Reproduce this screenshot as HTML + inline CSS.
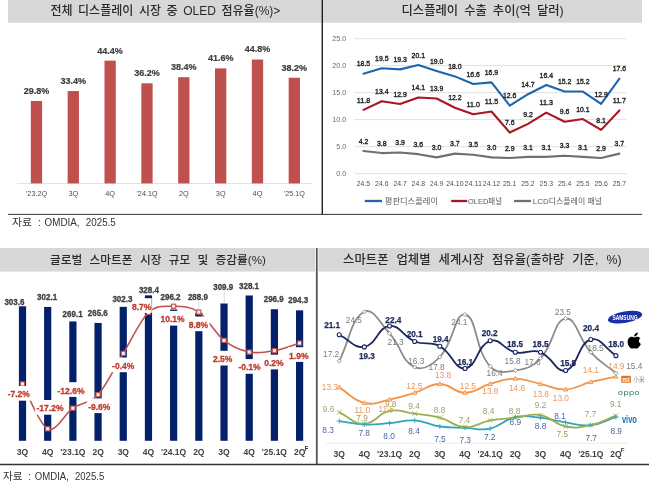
<!DOCTYPE html>
<html><head><meta charset="utf-8"><title>chart</title>
<style>html,body{margin:0;padding:0;background:#fff;} svg{display:block;}</style>
</head><body>
<svg width="650" height="490" viewBox="0 0 650 490">
<rect x="0.00" y="0.00" width="650.00" height="490.00" fill="#ffffff"/>
<rect x="8.00" y="0.00" width="634.00" height="22.70" fill="#d7d7d7"/>
<rect x="0.00" y="248.00" width="315.00" height="23.60" fill="#d7d7d7"/>
<rect x="318.50" y="248.00" width="330.50" height="23.60" fill="#d7d7d7"/>
<line x1="322.30" y1="0.00" x2="322.30" y2="214.50" stroke="#222" stroke-width="1.4"/>
<line x1="8.00" y1="214.40" x2="642.00" y2="214.40" stroke="#333" stroke-width="1"/>
<line x1="316.80" y1="248.00" x2="316.80" y2="464.50" stroke="#555" stroke-width="1.8"/>
<line x1="0.00" y1="464.40" x2="649.00" y2="464.40" stroke="#333" stroke-width="1.5"/>
<text x="50.4" y="14.8" font-size="12" fill="#2a2a2a" font-weight="500" font-family="'Liberation Sans','Noto Sans CJK KR',sans-serif" style="word-spacing:2.2px" textLength="230.0" lengthAdjust="spacingAndGlyphs">전체 디스플레이 시장 중 OLED 점유율(%)&gt;</text>
<line x1="17.00" y1="183.50" x2="312.00" y2="183.50" stroke="#d9d9d9" stroke-width="0.8"/>
<rect x="30.80" y="101.00" width="11.30" height="82.40" fill="#c0504d"/>
<text x="36.5" y="93.9" font-size="9" fill="#404040" font-weight="bold" text-anchor="middle" font-family="'Liberation Sans','Noto Sans CJK KR',sans-serif" textLength="25.6" lengthAdjust="spacingAndGlyphs" stroke="#404040" stroke-width="0.22">29.8%</text>
<text x="36.5" y="196.4" font-size="8" fill="#4d4d4d" font-weight="normal" text-anchor="middle" font-family="'Liberation Sans','Noto Sans CJK KR',sans-serif" textLength="21.0" lengthAdjust="spacingAndGlyphs">'23.2Q</text>
<rect x="67.64" y="91.05" width="11.30" height="92.35" fill="#c0504d"/>
<text x="73.3" y="83.9" font-size="9" fill="#404040" font-weight="bold" text-anchor="middle" font-family="'Liberation Sans','Noto Sans CJK KR',sans-serif" textLength="25.6" lengthAdjust="spacingAndGlyphs" stroke="#404040" stroke-width="0.22">33.4%</text>
<text x="73.3" y="196.4" font-size="8" fill="#4d4d4d" font-weight="normal" text-anchor="middle" font-family="'Liberation Sans','Noto Sans CJK KR',sans-serif" textLength="9.8" lengthAdjust="spacingAndGlyphs">3Q</text>
<rect x="104.48" y="60.63" width="11.30" height="122.77" fill="#c0504d"/>
<text x="110.1" y="53.5" font-size="9" fill="#404040" font-weight="bold" text-anchor="middle" font-family="'Liberation Sans','Noto Sans CJK KR',sans-serif" textLength="25.6" lengthAdjust="spacingAndGlyphs" stroke="#404040" stroke-width="0.22">44.4%</text>
<text x="110.1" y="196.4" font-size="8" fill="#4d4d4d" font-weight="normal" text-anchor="middle" font-family="'Liberation Sans','Noto Sans CJK KR',sans-serif" textLength="9.8" lengthAdjust="spacingAndGlyphs">4Q</text>
<rect x="141.32" y="83.31" width="11.30" height="100.09" fill="#c0504d"/>
<text x="147.0" y="76.2" font-size="9" fill="#404040" font-weight="bold" text-anchor="middle" font-family="'Liberation Sans','Noto Sans CJK KR',sans-serif" textLength="25.6" lengthAdjust="spacingAndGlyphs" stroke="#404040" stroke-width="0.22">36.2%</text>
<text x="147.0" y="196.4" font-size="8" fill="#4d4d4d" font-weight="normal" text-anchor="middle" font-family="'Liberation Sans','Noto Sans CJK KR',sans-serif" textLength="21.0" lengthAdjust="spacingAndGlyphs">'24.1Q</text>
<rect x="178.16" y="77.22" width="11.30" height="106.18" fill="#c0504d"/>
<text x="183.8" y="70.1" font-size="9" fill="#404040" font-weight="bold" text-anchor="middle" font-family="'Liberation Sans','Noto Sans CJK KR',sans-serif" textLength="25.6" lengthAdjust="spacingAndGlyphs" stroke="#404040" stroke-width="0.22">38.4%</text>
<text x="183.8" y="196.4" font-size="8" fill="#4d4d4d" font-weight="normal" text-anchor="middle" font-family="'Liberation Sans','Noto Sans CJK KR',sans-serif" textLength="9.8" lengthAdjust="spacingAndGlyphs">2Q</text>
<rect x="215.00" y="68.38" width="11.30" height="115.02" fill="#c0504d"/>
<text x="220.7" y="61.3" font-size="9" fill="#404040" font-weight="bold" text-anchor="middle" font-family="'Liberation Sans','Noto Sans CJK KR',sans-serif" textLength="25.6" lengthAdjust="spacingAndGlyphs" stroke="#404040" stroke-width="0.22">41.6%</text>
<text x="220.7" y="196.4" font-size="8" fill="#4d4d4d" font-weight="normal" text-anchor="middle" font-family="'Liberation Sans','Noto Sans CJK KR',sans-serif" textLength="9.8" lengthAdjust="spacingAndGlyphs">3Q</text>
<rect x="251.84" y="59.53" width="11.30" height="123.87" fill="#c0504d"/>
<text x="257.5" y="52.4" font-size="9" fill="#404040" font-weight="bold" text-anchor="middle" font-family="'Liberation Sans','Noto Sans CJK KR',sans-serif" textLength="25.6" lengthAdjust="spacingAndGlyphs" stroke="#404040" stroke-width="0.22">44.8%</text>
<text x="257.5" y="196.4" font-size="8" fill="#4d4d4d" font-weight="normal" text-anchor="middle" font-family="'Liberation Sans','Noto Sans CJK KR',sans-serif" textLength="9.8" lengthAdjust="spacingAndGlyphs">4Q</text>
<rect x="288.68" y="77.78" width="11.30" height="105.62" fill="#c0504d"/>
<text x="294.3" y="70.7" font-size="9" fill="#404040" font-weight="bold" text-anchor="middle" font-family="'Liberation Sans','Noto Sans CJK KR',sans-serif" textLength="25.6" lengthAdjust="spacingAndGlyphs" stroke="#404040" stroke-width="0.22">38.2%</text>
<text x="294.3" y="196.4" font-size="8" fill="#4d4d4d" font-weight="normal" text-anchor="middle" font-family="'Liberation Sans','Noto Sans CJK KR',sans-serif" textLength="21.0" lengthAdjust="spacingAndGlyphs">'25.1Q</text>
<text x="12.0" y="226.0" font-size="10" fill="#333333" font-weight="normal" text-anchor="start" font-family="'Noto Sans CJK KR','Liberation Sans',sans-serif" textLength="20.0" lengthAdjust="spacingAndGlyphs">자료</text>
<text x="38.0" y="226.0" font-size="10" fill="#333333" font-weight="normal" text-anchor="start" font-family="'Liberation Sans','Noto Sans CJK KR',sans-serif">:</text>
<text x="44.6" y="226.0" font-size="10" fill="#333333" font-weight="normal" text-anchor="start" font-family="'Liberation Sans','Noto Sans CJK KR',sans-serif" textLength="35.0" lengthAdjust="spacingAndGlyphs">OMDIA,</text>
<text x="85.8" y="226.0" font-size="10" fill="#333333" font-weight="normal" text-anchor="start" font-family="'Liberation Sans','Noto Sans CJK KR',sans-serif" textLength="30.0" lengthAdjust="spacingAndGlyphs">2025.5</text>
<text x="401.5" y="14.8" font-size="12" fill="#2a2a2a" font-weight="500" font-family="'Liberation Sans','Noto Sans CJK KR',sans-serif" style="word-spacing:2.6px" textLength="162.2" lengthAdjust="spacingAndGlyphs">디스플레이 수출 추이(억 달러)</text>
<line x1="354.50" y1="38.60" x2="626.60" y2="38.60" stroke="#d9d9d9" stroke-width="0.8"/>
<text x="346.2" y="41.4" font-size="8" fill="#6a6a6a" font-weight="normal" text-anchor="end" font-family="'Liberation Sans','Noto Sans CJK KR',sans-serif" textLength="13.9" lengthAdjust="spacingAndGlyphs">25.0</text>
<line x1="354.50" y1="65.60" x2="626.60" y2="65.60" stroke="#d9d9d9" stroke-width="0.8"/>
<text x="346.2" y="68.4" font-size="8" fill="#6a6a6a" font-weight="normal" text-anchor="end" font-family="'Liberation Sans','Noto Sans CJK KR',sans-serif" textLength="13.9" lengthAdjust="spacingAndGlyphs">20.0</text>
<line x1="354.50" y1="92.60" x2="626.60" y2="92.60" stroke="#d9d9d9" stroke-width="0.8"/>
<text x="346.2" y="95.4" font-size="8" fill="#6a6a6a" font-weight="normal" text-anchor="end" font-family="'Liberation Sans','Noto Sans CJK KR',sans-serif" textLength="13.9" lengthAdjust="spacingAndGlyphs">15.0</text>
<line x1="354.50" y1="119.60" x2="626.60" y2="119.60" stroke="#d9d9d9" stroke-width="0.8"/>
<text x="346.2" y="122.4" font-size="8" fill="#6a6a6a" font-weight="normal" text-anchor="end" font-family="'Liberation Sans','Noto Sans CJK KR',sans-serif" textLength="13.9" lengthAdjust="spacingAndGlyphs">10.0</text>
<line x1="354.50" y1="146.60" x2="626.60" y2="146.60" stroke="#d9d9d9" stroke-width="0.8"/>
<text x="346.2" y="149.4" font-size="8" fill="#6a6a6a" font-weight="normal" text-anchor="end" font-family="'Liberation Sans','Noto Sans CJK KR',sans-serif" textLength="9.9" lengthAdjust="spacingAndGlyphs">5.0</text>
<line x1="354.50" y1="173.60" x2="626.60" y2="173.60" stroke="#d9d9d9" stroke-width="0.8"/>
<text x="346.2" y="176.4" font-size="8" fill="#6a6a6a" font-weight="normal" text-anchor="end" font-family="'Liberation Sans','Noto Sans CJK KR',sans-serif" textLength="9.9" lengthAdjust="spacingAndGlyphs">0.0</text>
<text x="363.5" y="185.6" font-size="8" fill="#505050" font-weight="normal" text-anchor="middle" font-family="'Liberation Sans','Noto Sans CJK KR',sans-serif" textLength="13.4" lengthAdjust="spacingAndGlyphs">24.5</text>
<text x="381.8" y="185.6" font-size="8" fill="#505050" font-weight="normal" text-anchor="middle" font-family="'Liberation Sans','Noto Sans CJK KR',sans-serif" textLength="13.4" lengthAdjust="spacingAndGlyphs">24.6</text>
<text x="400.1" y="185.6" font-size="8" fill="#505050" font-weight="normal" text-anchor="middle" font-family="'Liberation Sans','Noto Sans CJK KR',sans-serif" textLength="13.4" lengthAdjust="spacingAndGlyphs">24.7</text>
<text x="418.3" y="185.6" font-size="8" fill="#505050" font-weight="normal" text-anchor="middle" font-family="'Liberation Sans','Noto Sans CJK KR',sans-serif" textLength="13.4" lengthAdjust="spacingAndGlyphs">24.8</text>
<text x="436.6" y="185.6" font-size="8" fill="#505050" font-weight="normal" text-anchor="middle" font-family="'Liberation Sans','Noto Sans CJK KR',sans-serif" textLength="13.4" lengthAdjust="spacingAndGlyphs">24.9</text>
<text x="454.9" y="185.6" font-size="8" fill="#505050" font-weight="normal" text-anchor="middle" font-family="'Liberation Sans','Noto Sans CJK KR',sans-serif" textLength="17.5" lengthAdjust="spacingAndGlyphs">24.10</text>
<text x="473.2" y="185.6" font-size="8" fill="#505050" font-weight="normal" text-anchor="middle" font-family="'Liberation Sans','Noto Sans CJK KR',sans-serif" textLength="17.5" lengthAdjust="spacingAndGlyphs">24.11</text>
<text x="491.5" y="185.6" font-size="8" fill="#505050" font-weight="normal" text-anchor="middle" font-family="'Liberation Sans','Noto Sans CJK KR',sans-serif" textLength="17.5" lengthAdjust="spacingAndGlyphs">24.12</text>
<text x="509.7" y="185.6" font-size="8" fill="#505050" font-weight="normal" text-anchor="middle" font-family="'Liberation Sans','Noto Sans CJK KR',sans-serif" textLength="13.4" lengthAdjust="spacingAndGlyphs">25.1</text>
<text x="528.0" y="185.6" font-size="8" fill="#505050" font-weight="normal" text-anchor="middle" font-family="'Liberation Sans','Noto Sans CJK KR',sans-serif" textLength="13.4" lengthAdjust="spacingAndGlyphs">25.2</text>
<text x="546.3" y="185.6" font-size="8" fill="#505050" font-weight="normal" text-anchor="middle" font-family="'Liberation Sans','Noto Sans CJK KR',sans-serif" textLength="13.4" lengthAdjust="spacingAndGlyphs">25.3</text>
<text x="564.6" y="185.6" font-size="8" fill="#505050" font-weight="normal" text-anchor="middle" font-family="'Liberation Sans','Noto Sans CJK KR',sans-serif" textLength="13.4" lengthAdjust="spacingAndGlyphs">25.4</text>
<text x="582.9" y="185.6" font-size="8" fill="#505050" font-weight="normal" text-anchor="middle" font-family="'Liberation Sans','Noto Sans CJK KR',sans-serif" textLength="13.4" lengthAdjust="spacingAndGlyphs">25.5</text>
<text x="601.1" y="185.6" font-size="8" fill="#505050" font-weight="normal" text-anchor="middle" font-family="'Liberation Sans','Noto Sans CJK KR',sans-serif" textLength="13.4" lengthAdjust="spacingAndGlyphs">25.6</text>
<text x="619.4" y="185.6" font-size="8" fill="#505050" font-weight="normal" text-anchor="middle" font-family="'Liberation Sans','Noto Sans CJK KR',sans-serif" textLength="13.4" lengthAdjust="spacingAndGlyphs">25.7</text>
<path d="M363.50,150.92 L381.78,153.08 L400.06,152.54 L418.34,154.16 L436.62,157.40 L454.90,153.62 L473.18,154.70 L491.46,157.40 L509.74,157.94 L528.02,156.86 L546.30,156.86 L564.58,155.78 L582.86,156.86 L601.14,157.94 L619.42,153.62" fill="none" stroke="#707070" stroke-width="2.1" stroke-linejoin="round" stroke-linecap="round"/>
<path d="M363.50,109.88 L381.78,101.24 L400.06,103.94 L418.34,97.46 L436.62,98.54 L454.90,107.72 L473.18,114.20 L491.46,111.50 L509.74,132.56 L528.02,123.92 L546.30,112.58 L564.58,121.76 L582.86,119.06 L601.14,129.86 L619.42,110.42" fill="none" stroke="#ab1520" stroke-width="2.1" stroke-linejoin="round" stroke-linecap="round"/>
<path d="M363.50,73.70 L381.78,68.30 L400.06,69.38 L418.34,65.06 L436.62,71.00 L454.90,76.40 L473.18,83.96 L491.46,82.34 L509.74,105.56 L528.02,94.22 L546.30,85.04 L564.58,91.52 L582.86,91.52 L601.14,103.94 L619.42,78.56" fill="none" stroke="#1f64ae" stroke-width="2.1" stroke-linejoin="round" stroke-linecap="round"/>
<text x="363.5" y="66.3" font-size="7.8" fill="#262626" font-weight="normal" text-anchor="middle" font-family="'Liberation Sans','Noto Sans CJK KR',sans-serif" textLength="13.4" lengthAdjust="spacingAndGlyphs" stroke="#262626" stroke-width="0.4">18.5</text>
<text x="381.8" y="60.9" font-size="7.8" fill="#262626" font-weight="normal" text-anchor="middle" font-family="'Liberation Sans','Noto Sans CJK KR',sans-serif" textLength="13.4" lengthAdjust="spacingAndGlyphs" stroke="#262626" stroke-width="0.4">19.5</text>
<text x="400.1" y="62.0" font-size="7.8" fill="#262626" font-weight="normal" text-anchor="middle" font-family="'Liberation Sans','Noto Sans CJK KR',sans-serif" textLength="13.4" lengthAdjust="spacingAndGlyphs" stroke="#262626" stroke-width="0.4">19.3</text>
<text x="418.3" y="57.7" font-size="7.8" fill="#262626" font-weight="normal" text-anchor="middle" font-family="'Liberation Sans','Noto Sans CJK KR',sans-serif" textLength="13.4" lengthAdjust="spacingAndGlyphs" stroke="#262626" stroke-width="0.4">20.1</text>
<text x="436.6" y="63.6" font-size="7.8" fill="#262626" font-weight="normal" text-anchor="middle" font-family="'Liberation Sans','Noto Sans CJK KR',sans-serif" textLength="13.4" lengthAdjust="spacingAndGlyphs" stroke="#262626" stroke-width="0.4">19.0</text>
<text x="454.9" y="69.0" font-size="7.8" fill="#262626" font-weight="normal" text-anchor="middle" font-family="'Liberation Sans','Noto Sans CJK KR',sans-serif" textLength="13.4" lengthAdjust="spacingAndGlyphs" stroke="#262626" stroke-width="0.4">18.0</text>
<text x="473.2" y="76.6" font-size="7.8" fill="#262626" font-weight="normal" text-anchor="middle" font-family="'Liberation Sans','Noto Sans CJK KR',sans-serif" textLength="13.4" lengthAdjust="spacingAndGlyphs" stroke="#262626" stroke-width="0.4">16.6</text>
<text x="491.5" y="74.9" font-size="7.8" fill="#262626" font-weight="normal" text-anchor="middle" font-family="'Liberation Sans','Noto Sans CJK KR',sans-serif" textLength="13.4" lengthAdjust="spacingAndGlyphs" stroke="#262626" stroke-width="0.4">16.9</text>
<text x="509.7" y="98.2" font-size="7.8" fill="#262626" font-weight="normal" text-anchor="middle" font-family="'Liberation Sans','Noto Sans CJK KR',sans-serif" textLength="13.4" lengthAdjust="spacingAndGlyphs" stroke="#262626" stroke-width="0.4">12.6</text>
<text x="528.0" y="86.8" font-size="7.8" fill="#262626" font-weight="normal" text-anchor="middle" font-family="'Liberation Sans','Noto Sans CJK KR',sans-serif" textLength="13.4" lengthAdjust="spacingAndGlyphs" stroke="#262626" stroke-width="0.4">14.7</text>
<text x="546.3" y="77.6" font-size="7.8" fill="#262626" font-weight="normal" text-anchor="middle" font-family="'Liberation Sans','Noto Sans CJK KR',sans-serif" textLength="13.4" lengthAdjust="spacingAndGlyphs" stroke="#262626" stroke-width="0.4">16.4</text>
<text x="564.6" y="84.1" font-size="7.8" fill="#262626" font-weight="normal" text-anchor="middle" font-family="'Liberation Sans','Noto Sans CJK KR',sans-serif" textLength="13.4" lengthAdjust="spacingAndGlyphs" stroke="#262626" stroke-width="0.4">15.2</text>
<text x="582.9" y="84.1" font-size="7.8" fill="#262626" font-weight="normal" text-anchor="middle" font-family="'Liberation Sans','Noto Sans CJK KR',sans-serif" textLength="13.4" lengthAdjust="spacingAndGlyphs" stroke="#262626" stroke-width="0.4">15.2</text>
<text x="601.1" y="96.5" font-size="7.8" fill="#262626" font-weight="normal" text-anchor="middle" font-family="'Liberation Sans','Noto Sans CJK KR',sans-serif" textLength="13.4" lengthAdjust="spacingAndGlyphs" stroke="#262626" stroke-width="0.4">12.9</text>
<text x="619.4" y="71.2" font-size="7.8" fill="#262626" font-weight="normal" text-anchor="middle" font-family="'Liberation Sans','Noto Sans CJK KR',sans-serif" textLength="13.4" lengthAdjust="spacingAndGlyphs" stroke="#262626" stroke-width="0.4">17.6</text>
<text x="363.5" y="102.5" font-size="7.8" fill="#262626" font-weight="normal" text-anchor="middle" font-family="'Liberation Sans','Noto Sans CJK KR',sans-serif" textLength="13.4" lengthAdjust="spacingAndGlyphs" stroke="#262626" stroke-width="0.4">11.8</text>
<text x="381.8" y="93.8" font-size="7.8" fill="#262626" font-weight="normal" text-anchor="middle" font-family="'Liberation Sans','Noto Sans CJK KR',sans-serif" textLength="13.4" lengthAdjust="spacingAndGlyphs" stroke="#262626" stroke-width="0.4">13.4</text>
<text x="400.1" y="96.5" font-size="7.8" fill="#262626" font-weight="normal" text-anchor="middle" font-family="'Liberation Sans','Noto Sans CJK KR',sans-serif" textLength="13.4" lengthAdjust="spacingAndGlyphs" stroke="#262626" stroke-width="0.4">12.9</text>
<text x="418.3" y="90.1" font-size="7.8" fill="#262626" font-weight="normal" text-anchor="middle" font-family="'Liberation Sans','Noto Sans CJK KR',sans-serif" textLength="13.4" lengthAdjust="spacingAndGlyphs" stroke="#262626" stroke-width="0.4">14.1</text>
<text x="436.6" y="91.1" font-size="7.8" fill="#262626" font-weight="normal" text-anchor="middle" font-family="'Liberation Sans','Noto Sans CJK KR',sans-serif" textLength="13.4" lengthAdjust="spacingAndGlyphs" stroke="#262626" stroke-width="0.4">13.9</text>
<text x="454.9" y="100.3" font-size="7.8" fill="#262626" font-weight="normal" text-anchor="middle" font-family="'Liberation Sans','Noto Sans CJK KR',sans-serif" textLength="13.4" lengthAdjust="spacingAndGlyphs" stroke="#262626" stroke-width="0.4">12.2</text>
<text x="473.2" y="106.8" font-size="7.8" fill="#262626" font-weight="normal" text-anchor="middle" font-family="'Liberation Sans','Noto Sans CJK KR',sans-serif" textLength="13.4" lengthAdjust="spacingAndGlyphs" stroke="#262626" stroke-width="0.4">11.0</text>
<text x="491.5" y="104.1" font-size="7.8" fill="#262626" font-weight="normal" text-anchor="middle" font-family="'Liberation Sans','Noto Sans CJK KR',sans-serif" textLength="13.4" lengthAdjust="spacingAndGlyphs" stroke="#262626" stroke-width="0.4">11.5</text>
<text x="509.7" y="125.2" font-size="7.8" fill="#262626" font-weight="normal" text-anchor="middle" font-family="'Liberation Sans','Noto Sans CJK KR',sans-serif" textLength="9.6" lengthAdjust="spacingAndGlyphs" stroke="#262626" stroke-width="0.4">7.6</text>
<text x="528.0" y="116.5" font-size="7.8" fill="#262626" font-weight="normal" text-anchor="middle" font-family="'Liberation Sans','Noto Sans CJK KR',sans-serif" textLength="9.6" lengthAdjust="spacingAndGlyphs" stroke="#262626" stroke-width="0.4">9.2</text>
<text x="546.3" y="105.2" font-size="7.8" fill="#262626" font-weight="normal" text-anchor="middle" font-family="'Liberation Sans','Noto Sans CJK KR',sans-serif" textLength="13.4" lengthAdjust="spacingAndGlyphs" stroke="#262626" stroke-width="0.4">11.3</text>
<text x="564.6" y="114.4" font-size="7.8" fill="#262626" font-weight="normal" text-anchor="middle" font-family="'Liberation Sans','Noto Sans CJK KR',sans-serif" textLength="9.6" lengthAdjust="spacingAndGlyphs" stroke="#262626" stroke-width="0.4">9.6</text>
<text x="582.9" y="111.7" font-size="7.8" fill="#262626" font-weight="normal" text-anchor="middle" font-family="'Liberation Sans','Noto Sans CJK KR',sans-serif" textLength="13.4" lengthAdjust="spacingAndGlyphs" stroke="#262626" stroke-width="0.4">10.1</text>
<text x="601.1" y="122.5" font-size="7.8" fill="#262626" font-weight="normal" text-anchor="middle" font-family="'Liberation Sans','Noto Sans CJK KR',sans-serif" textLength="9.6" lengthAdjust="spacingAndGlyphs" stroke="#262626" stroke-width="0.4">8.1</text>
<text x="619.4" y="103.0" font-size="7.8" fill="#262626" font-weight="normal" text-anchor="middle" font-family="'Liberation Sans','Noto Sans CJK KR',sans-serif" textLength="13.4" lengthAdjust="spacingAndGlyphs" stroke="#262626" stroke-width="0.4">11.7</text>
<text x="363.5" y="143.5" font-size="7.8" fill="#262626" font-weight="normal" text-anchor="middle" font-family="'Liberation Sans','Noto Sans CJK KR',sans-serif" textLength="9.6" lengthAdjust="spacingAndGlyphs" stroke="#262626" stroke-width="0.4">4.2</text>
<text x="381.8" y="145.7" font-size="7.8" fill="#262626" font-weight="normal" text-anchor="middle" font-family="'Liberation Sans','Noto Sans CJK KR',sans-serif" textLength="9.6" lengthAdjust="spacingAndGlyphs" stroke="#262626" stroke-width="0.4">3.8</text>
<text x="400.1" y="145.1" font-size="7.8" fill="#262626" font-weight="normal" text-anchor="middle" font-family="'Liberation Sans','Noto Sans CJK KR',sans-serif" textLength="9.6" lengthAdjust="spacingAndGlyphs" stroke="#262626" stroke-width="0.4">3.9</text>
<text x="418.3" y="146.8" font-size="7.8" fill="#262626" font-weight="normal" text-anchor="middle" font-family="'Liberation Sans','Noto Sans CJK KR',sans-serif" textLength="9.6" lengthAdjust="spacingAndGlyphs" stroke="#262626" stroke-width="0.4">3.6</text>
<text x="436.6" y="150.0" font-size="7.8" fill="#262626" font-weight="normal" text-anchor="middle" font-family="'Liberation Sans','Noto Sans CJK KR',sans-serif" textLength="9.6" lengthAdjust="spacingAndGlyphs" stroke="#262626" stroke-width="0.4">3.0</text>
<text x="454.9" y="146.2" font-size="7.8" fill="#262626" font-weight="normal" text-anchor="middle" font-family="'Liberation Sans','Noto Sans CJK KR',sans-serif" textLength="9.6" lengthAdjust="spacingAndGlyphs" stroke="#262626" stroke-width="0.4">3.7</text>
<text x="473.2" y="147.3" font-size="7.8" fill="#262626" font-weight="normal" text-anchor="middle" font-family="'Liberation Sans','Noto Sans CJK KR',sans-serif" textLength="9.6" lengthAdjust="spacingAndGlyphs" stroke="#262626" stroke-width="0.4">3.5</text>
<text x="491.5" y="150.0" font-size="7.8" fill="#262626" font-weight="normal" text-anchor="middle" font-family="'Liberation Sans','Noto Sans CJK KR',sans-serif" textLength="9.6" lengthAdjust="spacingAndGlyphs" stroke="#262626" stroke-width="0.4">3.0</text>
<text x="509.7" y="150.5" font-size="7.8" fill="#262626" font-weight="normal" text-anchor="middle" font-family="'Liberation Sans','Noto Sans CJK KR',sans-serif" textLength="9.6" lengthAdjust="spacingAndGlyphs" stroke="#262626" stroke-width="0.4">2.9</text>
<text x="528.0" y="149.5" font-size="7.8" fill="#262626" font-weight="normal" text-anchor="middle" font-family="'Liberation Sans','Noto Sans CJK KR',sans-serif" textLength="9.6" lengthAdjust="spacingAndGlyphs" stroke="#262626" stroke-width="0.4">3.1</text>
<text x="546.3" y="149.5" font-size="7.8" fill="#262626" font-weight="normal" text-anchor="middle" font-family="'Liberation Sans','Noto Sans CJK KR',sans-serif" textLength="9.6" lengthAdjust="spacingAndGlyphs" stroke="#262626" stroke-width="0.4">3.1</text>
<text x="564.6" y="148.4" font-size="7.8" fill="#262626" font-weight="normal" text-anchor="middle" font-family="'Liberation Sans','Noto Sans CJK KR',sans-serif" textLength="9.6" lengthAdjust="spacingAndGlyphs" stroke="#262626" stroke-width="0.4">3.3</text>
<text x="582.9" y="149.5" font-size="7.8" fill="#262626" font-weight="normal" text-anchor="middle" font-family="'Liberation Sans','Noto Sans CJK KR',sans-serif" textLength="9.6" lengthAdjust="spacingAndGlyphs" stroke="#262626" stroke-width="0.4">3.1</text>
<text x="601.1" y="150.5" font-size="7.8" fill="#262626" font-weight="normal" text-anchor="middle" font-family="'Liberation Sans','Noto Sans CJK KR',sans-serif" textLength="9.6" lengthAdjust="spacingAndGlyphs" stroke="#262626" stroke-width="0.4">2.9</text>
<text x="619.4" y="146.2" font-size="7.8" fill="#262626" font-weight="normal" text-anchor="middle" font-family="'Liberation Sans','Noto Sans CJK KR',sans-serif" textLength="9.6" lengthAdjust="spacingAndGlyphs" stroke="#262626" stroke-width="0.4">3.7</text>
<line x1="364.80" y1="201.00" x2="382.00" y2="201.00" stroke="#1f64ae" stroke-width="2.3"/>
<text x="384.8" y="204.0" font-size="8" fill="#595959" font-weight="normal" text-anchor="start" font-family="'Noto Sans CJK KR','Liberation Sans',sans-serif" textLength="53.2" lengthAdjust="spacingAndGlyphs">평판디스플레이</text>
<line x1="451.20" y1="201.00" x2="467.20" y2="201.00" stroke="#ab1520" stroke-width="2.3"/>
<text x="468.0" y="204.0" font-size="8" fill="#595959" font-weight="normal" text-anchor="start" font-family="'Liberation Sans','Noto Sans CJK KR',sans-serif" textLength="34.0" lengthAdjust="spacingAndGlyphs">OLED패널</text>
<line x1="514.00" y1="201.00" x2="531.00" y2="201.00" stroke="#707070" stroke-width="2.3"/>
<text x="532.8" y="204.0" font-size="8" fill="#595959" font-weight="normal" text-anchor="start" font-family="'Liberation Sans','Noto Sans CJK KR',sans-serif" textLength="69.2" lengthAdjust="spacingAndGlyphs">LCD디스플레이 패널</text>
<text x="50.0" y="263.6" font-size="11.5" fill="#2a2a2a" font-weight="500" font-family="'Liberation Sans','Noto Sans CJK KR',sans-serif" style="word-spacing:4px" textLength="216.0" lengthAdjust="spacingAndGlyphs">글로벌 스마트폰 시장 규모 및 증감률(%)</text>
<rect x="18.90" y="306.27" width="7.20" height="134.53" fill="#03216a"/>
<rect x="44.09" y="306.93" width="7.20" height="133.87" fill="#03216a"/>
<rect x="69.28" y="321.43" width="7.20" height="119.37" fill="#03216a"/>
<rect x="94.47" y="322.97" width="7.20" height="117.83" fill="#03216a"/>
<rect x="119.66" y="306.84" width="7.20" height="133.96" fill="#03216a"/>
<rect x="144.85" y="295.37" width="7.20" height="145.43" fill="#03216a"/>
<rect x="170.04" y="309.52" width="7.20" height="131.28" fill="#03216a"/>
<rect x="195.23" y="312.73" width="7.20" height="128.07" fill="#03216a"/>
<rect x="220.42" y="303.50" width="7.20" height="137.30" fill="#03216a"/>
<rect x="245.61" y="295.50" width="7.20" height="145.30" fill="#03216a"/>
<rect x="270.80" y="309.21" width="7.20" height="131.59" fill="#03216a"/>
<rect x="295.99" y="310.36" width="7.20" height="130.44" fill="#03216a"/>
<line x1="198.80" y1="301.50" x2="198.80" y2="312.50" stroke="#bfbfbf" stroke-width="0.6"/>
<line x1="224.20" y1="291.00" x2="224.20" y2="303.00" stroke="#bfbfbf" stroke-width="0.6"/>
<path d="M22.50,383.93 C26.70,391.41 39.29,424.79 47.69,428.83 C56.09,432.87 64.48,413.86 72.88,408.17 C81.28,402.49 89.67,403.83 98.07,394.70 C106.47,385.57 114.86,367.09 123.26,353.40 C131.66,339.70 140.05,320.39 148.45,312.54 C156.85,304.68 165.24,306.33 173.64,306.25 C182.04,306.18 190.43,306.40 198.83,312.09 C207.23,317.78 215.62,333.71 224.02,340.38 C232.42,347.04 240.81,350.33 249.21,352.05 C257.61,353.77 266.00,352.20 274.40,350.70 C282.80,349.21 295.39,344.34 299.59,343.07" fill="none" stroke="#c0504d" stroke-width="1.6"/>
<rect x="20.40" y="381.83" width="4.20" height="4.20" fill="#fbe9e9" stroke="#c0504d" stroke-width="1.1"/>
<rect x="45.59" y="426.73" width="4.20" height="4.20" fill="#fbe9e9" stroke="#c0504d" stroke-width="1.1"/>
<rect x="70.78" y="406.07" width="4.20" height="4.20" fill="#fbe9e9" stroke="#c0504d" stroke-width="1.1"/>
<rect x="95.97" y="392.60" width="4.20" height="4.20" fill="#fbe9e9" stroke="#c0504d" stroke-width="1.1"/>
<rect x="121.16" y="351.30" width="4.20" height="4.20" fill="#fbe9e9" stroke="#c0504d" stroke-width="1.1"/>
<rect x="146.35" y="310.44" width="4.20" height="4.20" fill="#fbe9e9" stroke="#c0504d" stroke-width="1.1"/>
<rect x="171.54" y="304.15" width="4.20" height="4.20" fill="#fbe9e9" stroke="#c0504d" stroke-width="1.1"/>
<rect x="196.73" y="309.99" width="4.20" height="4.20" fill="#fbe9e9" stroke="#c0504d" stroke-width="1.1"/>
<rect x="221.92" y="338.27" width="4.20" height="4.20" fill="#fbe9e9" stroke="#c0504d" stroke-width="1.1"/>
<rect x="247.11" y="349.95" width="4.20" height="4.20" fill="#fbe9e9" stroke="#c0504d" stroke-width="1.1"/>
<rect x="272.30" y="348.60" width="4.20" height="4.20" fill="#fbe9e9" stroke="#c0504d" stroke-width="1.1"/>
<rect x="297.49" y="340.97" width="4.20" height="4.20" fill="#fbe9e9" stroke="#c0504d" stroke-width="1.1"/>
<rect x="6.10" y="386.00" width="25.30" height="14.70" fill="#ffffff"/>
<rect x="35.20" y="400.00" width="29.50" height="14.70" fill="#ffffff"/>
<rect x="56.10" y="382.20" width="29.90" height="14.70" fill="#ffffff"/>
<rect x="86.90" y="398.40" width="24.90" height="14.70" fill="#ffffff"/>
<rect x="110.50" y="357.50" width="25.40" height="14.70" fill="#ffffff"/>
<rect x="131.40" y="298.20" width="20.30" height="14.70" fill="#ffffff"/>
<rect x="159.20" y="310.90" width="26.80" height="14.70" fill="#ffffff"/>
<rect x="187.30" y="316.50" width="22.30" height="14.70" fill="#ffffff"/>
<rect x="212.10" y="350.80" width="21.10" height="14.70" fill="#ffffff"/>
<rect x="237.00" y="359.10" width="25.00" height="14.70" fill="#ffffff"/>
<rect x="263.30" y="354.70" width="21.10" height="14.70" fill="#ffffff"/>
<rect x="288.00" y="347.20" width="21.60" height="14.70" fill="#ffffff"/>
<text x="18.8" y="397.3" font-size="8.5" fill="#c0392b" font-weight="bold" text-anchor="middle" font-family="'Liberation Sans','Noto Sans CJK KR',sans-serif" stroke="#c0392b" stroke-width="0.3">-7.2%</text>
<text x="50.0" y="411.3" font-size="8.5" fill="#c0392b" font-weight="bold" text-anchor="middle" font-family="'Liberation Sans','Noto Sans CJK KR',sans-serif" stroke="#c0392b" stroke-width="0.3">-17.2%</text>
<text x="71.0" y="393.5" font-size="8.5" fill="#c0392b" font-weight="bold" text-anchor="middle" font-family="'Liberation Sans','Noto Sans CJK KR',sans-serif" stroke="#c0392b" stroke-width="0.3">-12.6%</text>
<text x="99.3" y="409.7" font-size="8.5" fill="#c0392b" font-weight="bold" text-anchor="middle" font-family="'Liberation Sans','Noto Sans CJK KR',sans-serif" stroke="#c0392b" stroke-width="0.3">-9.6%</text>
<text x="123.2" y="368.8" font-size="8.5" fill="#c0392b" font-weight="bold" text-anchor="middle" font-family="'Liberation Sans','Noto Sans CJK KR',sans-serif" stroke="#c0392b" stroke-width="0.3">-0.4%</text>
<text x="141.6" y="309.5" font-size="8.5" fill="#c0392b" font-weight="bold" text-anchor="middle" font-family="'Liberation Sans','Noto Sans CJK KR',sans-serif" stroke="#c0392b" stroke-width="0.3">8.7%</text>
<text x="172.6" y="322.2" font-size="8.5" fill="#c0392b" font-weight="bold" text-anchor="middle" font-family="'Liberation Sans','Noto Sans CJK KR',sans-serif" stroke="#c0392b" stroke-width="0.3">10.1%</text>
<text x="198.4" y="327.8" font-size="8.5" fill="#c0392b" font-weight="bold" text-anchor="middle" font-family="'Liberation Sans','Noto Sans CJK KR',sans-serif" stroke="#c0392b" stroke-width="0.3">8.8%</text>
<text x="222.7" y="362.1" font-size="8.5" fill="#c0392b" font-weight="bold" text-anchor="middle" font-family="'Liberation Sans','Noto Sans CJK KR',sans-serif" stroke="#c0392b" stroke-width="0.3">2.5%</text>
<text x="249.5" y="370.4" font-size="8.5" fill="#c0392b" font-weight="bold" text-anchor="middle" font-family="'Liberation Sans','Noto Sans CJK KR',sans-serif" stroke="#c0392b" stroke-width="0.3">-0.1%</text>
<text x="273.9" y="366.0" font-size="8.5" fill="#c0392b" font-weight="bold" text-anchor="middle" font-family="'Liberation Sans','Noto Sans CJK KR',sans-serif" stroke="#c0392b" stroke-width="0.3">0.2%</text>
<text x="298.8" y="358.5" font-size="8.5" fill="#c0392b" font-weight="bold" text-anchor="middle" font-family="'Liberation Sans','Noto Sans CJK KR',sans-serif" stroke="#c0392b" stroke-width="0.3">1.9%</text>
<text x="14.4" y="304.6" font-size="8.5" fill="#404040" font-weight="bold" text-anchor="middle" font-family="'Liberation Sans','Noto Sans CJK KR',sans-serif" textLength="20.0" lengthAdjust="spacingAndGlyphs" stroke="#404040" stroke-width="0.3">303.6</text>
<text x="47.1" y="300.4" font-size="8.5" fill="#404040" font-weight="bold" text-anchor="middle" font-family="'Liberation Sans','Noto Sans CJK KR',sans-serif" textLength="20.0" lengthAdjust="spacingAndGlyphs" stroke="#404040" stroke-width="0.3">302.1</text>
<text x="72.6" y="317.2" font-size="8.5" fill="#404040" font-weight="bold" text-anchor="middle" font-family="'Liberation Sans','Noto Sans CJK KR',sans-serif" textLength="20.0" lengthAdjust="spacingAndGlyphs" stroke="#404040" stroke-width="0.3">269.1</text>
<text x="97.8" y="316.4" font-size="8.5" fill="#404040" font-weight="bold" text-anchor="middle" font-family="'Liberation Sans','Noto Sans CJK KR',sans-serif" textLength="20.0" lengthAdjust="spacingAndGlyphs" stroke="#404040" stroke-width="0.3">265.6</text>
<text x="122.4" y="301.5" font-size="8.5" fill="#404040" font-weight="bold" text-anchor="middle" font-family="'Liberation Sans','Noto Sans CJK KR',sans-serif" textLength="20.0" lengthAdjust="spacingAndGlyphs" stroke="#404040" stroke-width="0.3">302.3</text>
<text x="148.9" y="293.2" font-size="8.5" fill="#404040" font-weight="bold" text-anchor="middle" font-family="'Liberation Sans','Noto Sans CJK KR',sans-serif" textLength="20.0" lengthAdjust="spacingAndGlyphs" stroke="#404040" stroke-width="0.3">328.4</text>
<text x="170.5" y="300.1" font-size="8.5" fill="#404040" font-weight="bold" text-anchor="middle" font-family="'Liberation Sans','Noto Sans CJK KR',sans-serif" textLength="20.0" lengthAdjust="spacingAndGlyphs" stroke="#404040" stroke-width="0.3">296.2</text>
<text x="197.9" y="300.1" font-size="8.5" fill="#404040" font-weight="bold" text-anchor="middle" font-family="'Liberation Sans','Noto Sans CJK KR',sans-serif" textLength="20.0" lengthAdjust="spacingAndGlyphs" stroke="#404040" stroke-width="0.3">288.9</text>
<text x="223.2" y="289.6" font-size="8.5" fill="#404040" font-weight="bold" text-anchor="middle" font-family="'Liberation Sans','Noto Sans CJK KR',sans-serif" textLength="20.0" lengthAdjust="spacingAndGlyphs" stroke="#404040" stroke-width="0.3">309.9</text>
<text x="249.0" y="289.0" font-size="8.5" fill="#404040" font-weight="bold" text-anchor="middle" font-family="'Liberation Sans','Noto Sans CJK KR',sans-serif" textLength="20.0" lengthAdjust="spacingAndGlyphs" stroke="#404040" stroke-width="0.3">328.1</text>
<text x="273.7" y="302.4" font-size="8.5" fill="#404040" font-weight="bold" text-anchor="middle" font-family="'Liberation Sans','Noto Sans CJK KR',sans-serif" textLength="20.0" lengthAdjust="spacingAndGlyphs" stroke="#404040" stroke-width="0.3">296.9</text>
<text x="298.2" y="303.0" font-size="8.5" fill="#404040" font-weight="bold" text-anchor="middle" font-family="'Liberation Sans','Noto Sans CJK KR',sans-serif" textLength="20.0" lengthAdjust="spacingAndGlyphs" stroke="#404040" stroke-width="0.3">294.3</text>
<text x="22.5" y="455.0" font-size="8.5" fill="#404040" font-weight="bold" text-anchor="middle" font-family="'Liberation Sans','Noto Sans CJK KR',sans-serif">3Q</text>
<text x="47.7" y="455.0" font-size="8.5" fill="#404040" font-weight="bold" text-anchor="middle" font-family="'Liberation Sans','Noto Sans CJK KR',sans-serif">4Q</text>
<text x="72.9" y="455.0" font-size="8.5" fill="#404040" font-weight="bold" text-anchor="middle" font-family="'Liberation Sans','Noto Sans CJK KR',sans-serif">'23.1Q</text>
<text x="98.1" y="455.0" font-size="8.5" fill="#404040" font-weight="bold" text-anchor="middle" font-family="'Liberation Sans','Noto Sans CJK KR',sans-serif">2Q</text>
<text x="123.3" y="455.0" font-size="8.5" fill="#404040" font-weight="bold" text-anchor="middle" font-family="'Liberation Sans','Noto Sans CJK KR',sans-serif">3Q</text>
<text x="148.4" y="455.0" font-size="8.5" fill="#404040" font-weight="bold" text-anchor="middle" font-family="'Liberation Sans','Noto Sans CJK KR',sans-serif">4Q</text>
<text x="173.6" y="455.0" font-size="8.5" fill="#404040" font-weight="bold" text-anchor="middle" font-family="'Liberation Sans','Noto Sans CJK KR',sans-serif">'24.1Q</text>
<text x="198.8" y="455.0" font-size="8.5" fill="#404040" font-weight="bold" text-anchor="middle" font-family="'Liberation Sans','Noto Sans CJK KR',sans-serif">2Q</text>
<text x="224.0" y="455.0" font-size="8.5" fill="#404040" font-weight="bold" text-anchor="middle" font-family="'Liberation Sans','Noto Sans CJK KR',sans-serif">3Q</text>
<text x="249.2" y="455.0" font-size="8.5" fill="#404040" font-weight="bold" text-anchor="middle" font-family="'Liberation Sans','Noto Sans CJK KR',sans-serif">4Q</text>
<text x="274.4" y="455.0" font-size="8.5" fill="#404040" font-weight="bold" text-anchor="middle" font-family="'Liberation Sans','Noto Sans CJK KR',sans-serif">'25.1Q</text>
<text x="299.6" y="455.0" font-size="8.5" fill="#404040" font-weight="bold" text-anchor="middle" font-family="'Liberation Sans','Noto Sans CJK KR',sans-serif">2Q</text>
<text x="306.4" y="450.6" font-size="6.4" fill="#404040" font-weight="bold" text-anchor="middle" font-family="'Liberation Sans','Noto Sans CJK KR',sans-serif">F</text>
<text x="3.0" y="479.8" font-size="10" fill="#333333" font-weight="normal" text-anchor="start" font-family="'Noto Sans CJK KR','Liberation Sans',sans-serif" textLength="19.5" lengthAdjust="spacingAndGlyphs">자료</text>
<text x="28.3" y="479.8" font-size="10" fill="#333333" font-weight="normal" text-anchor="start" font-family="'Liberation Sans','Noto Sans CJK KR',sans-serif">:</text>
<text x="34.8" y="479.8" font-size="10" fill="#333333" font-weight="normal" text-anchor="start" font-family="'Liberation Sans','Noto Sans CJK KR',sans-serif" textLength="34.1" lengthAdjust="spacingAndGlyphs">OMDIA,</text>
<text x="75.0" y="479.8" font-size="10" fill="#333333" font-weight="normal" text-anchor="start" font-family="'Liberation Sans','Noto Sans CJK KR',sans-serif" textLength="29.2" lengthAdjust="spacingAndGlyphs">2025.5</text>
<text x="343.1" y="264.2" font-size="12" fill="#2a2a2a" font-weight="500" font-family="'Liberation Sans','Noto Sans CJK KR',sans-serif" style="word-spacing:4.5px" textLength="278.4" lengthAdjust="spacingAndGlyphs">스마트폰 업체별 세계시장 점유율(출하량 기준, %)</text>
<line x1="325.40" y1="443.20" x2="628.00" y2="443.20" stroke="#e6e6e6" stroke-width="0.8"/>
<path d="M339.20,421.10 C350.52,422.62 353.00,424.02 364.36,424.47 C375.64,424.93 378.22,424.03 389.52,423.12 C400.87,422.21 403.49,419.67 414.68,420.43 C426.13,421.19 428.37,424.81 439.84,426.50 C451.01,428.14 453.67,427.39 465.00,427.85 C476.32,428.30 479.37,430.84 490.16,428.52 C502.01,425.98 503.47,419.59 515.32,417.05 C526.11,414.74 529.25,416.52 540.48,417.73 C551.90,418.95 554.25,420.77 565.64,422.45 C576.90,424.11 579.72,426.34 590.80,425.15 C602.37,423.91 604.64,420.70 615.96,417.05" fill="none" stroke="#34a4bc" stroke-width="1.8"/>
<path d="M339.20,412.33 C350.52,417.49 353.16,424.10 364.36,423.80 C375.80,423.49 377.58,413.38 389.52,410.98 C400.22,408.83 403.40,412.17 414.68,413.68 C426.04,415.20 428.82,414.77 439.84,417.73 C451.46,420.84 453.50,426.56 465.00,427.17 C476.15,427.77 478.67,422.58 490.16,420.43 C501.32,418.33 504.00,418.94 515.32,417.73 C526.64,416.51 529.66,413.14 540.48,415.03 C552.30,417.09 553.79,424.11 565.64,426.50 C576.44,428.67 579.84,427.50 590.80,425.15 C602.49,422.64 604.64,419.95 615.96,415.70" fill="none" stroke="#9aae4e" stroke-width="1.8"/>
<path d="M339.20,387.36 C350.52,394.35 352.18,399.94 364.36,402.88 C374.82,405.41 378.34,401.76 389.52,399.51 C400.99,397.20 403.49,396.21 414.68,392.76 C426.13,389.23 428.52,383.99 439.84,383.99 C451.16,383.99 453.68,392.76 465.00,392.76 C476.32,392.76 478.64,387.23 490.16,383.99 C501.28,380.86 504.00,378.59 515.32,378.59 C526.64,378.59 529.16,381.56 540.48,383.99 C551.80,386.42 554.43,389.84 565.64,389.39 C577.07,388.93 579.37,384.88 590.80,381.97 C602.01,379.11 604.64,379.00 615.96,376.57" fill="none" stroke="#f39446" stroke-width="1.8"/>
<path d="M339.20,361.05 C350.52,338.89 350.20,319.58 364.36,311.80 C372.85,307.13 379.54,322.42 389.52,333.39 C402.19,347.31 400.91,360.66 414.68,367.12 C423.55,371.29 431.81,365.40 439.84,357.00 C454.46,341.72 454.56,312.54 465.00,314.50 C477.20,316.79 474.45,348.97 490.16,366.45 C497.10,374.17 504.52,372.24 515.32,370.50 C527.16,368.59 532.05,367.06 540.48,358.35 C554.69,343.68 553.68,319.99 565.64,318.55 C576.33,317.26 578.06,338.44 590.80,352.28 C600.70,363.04 604.64,363.78 615.96,373.20" fill="none" stroke="#8c8c8c" stroke-width="1.8"/>
<path d="M339.20,334.74 C350.52,340.20 353.93,348.70 364.36,346.88 C376.57,344.75 377.62,327.24 389.52,325.97 C400.27,324.81 402.54,336.60 414.68,341.49 C425.19,345.71 430.05,340.96 439.84,346.21 C452.69,353.10 454.28,369.62 465.00,368.47 C476.93,367.19 477.14,345.00 490.16,340.81 C499.79,337.71 503.46,349.58 515.32,352.28 C526.11,354.74 530.35,348.61 540.48,352.28 C552.99,356.81 555.74,373.02 565.64,370.50 C578.38,367.25 577.85,343.28 590.80,339.46 C600.50,336.60 604.64,348.37 615.96,355.65" fill="none" stroke="#1c2760" stroke-width="1.8"/>
<circle cx="339.20" cy="334.74" r="2.0" fill="#fff" stroke="#1c2760" stroke-width="1.1"/>
<circle cx="364.36" cy="346.88" r="2.0" fill="#fff" stroke="#1c2760" stroke-width="1.1"/>
<circle cx="389.52" cy="325.97" r="2.0" fill="#fff" stroke="#1c2760" stroke-width="1.1"/>
<circle cx="414.68" cy="341.49" r="2.0" fill="#fff" stroke="#1c2760" stroke-width="1.1"/>
<circle cx="439.84" cy="346.21" r="2.0" fill="#fff" stroke="#1c2760" stroke-width="1.1"/>
<circle cx="465.00" cy="368.47" r="2.0" fill="#fff" stroke="#1c2760" stroke-width="1.1"/>
<circle cx="490.16" cy="340.81" r="2.0" fill="#fff" stroke="#1c2760" stroke-width="1.1"/>
<circle cx="515.32" cy="352.28" r="2.0" fill="#fff" stroke="#1c2760" stroke-width="1.1"/>
<circle cx="540.48" cy="352.28" r="2.0" fill="#fff" stroke="#1c2760" stroke-width="1.1"/>
<circle cx="565.64" cy="370.50" r="2.0" fill="#fff" stroke="#1c2760" stroke-width="1.1"/>
<circle cx="590.80" cy="339.46" r="2.0" fill="#fff" stroke="#1c2760" stroke-width="1.1"/>
<circle cx="615.96" cy="355.65" r="2.0" fill="#fff" stroke="#1c2760" stroke-width="1.1"/>
<path d="M339.20,359.05 L341.20,361.05 L339.20,363.05 L337.20,361.05Z" fill="#fff" stroke="#8c8c8c" stroke-width="0.9"/>
<path d="M364.36,309.80 L366.36,311.80 L364.36,313.80 L362.36,311.80Z" fill="#fff" stroke="#8c8c8c" stroke-width="0.9"/>
<path d="M389.52,331.39 L391.52,333.39 L389.52,335.39 L387.52,333.39Z" fill="#fff" stroke="#8c8c8c" stroke-width="0.9"/>
<path d="M414.68,365.12 L416.68,367.12 L414.68,369.12 L412.68,367.12Z" fill="#fff" stroke="#8c8c8c" stroke-width="0.9"/>
<path d="M439.84,355.00 L441.84,357.00 L439.84,359.00 L437.84,357.00Z" fill="#fff" stroke="#8c8c8c" stroke-width="0.9"/>
<path d="M465.00,312.50 L467.00,314.50 L465.00,316.50 L463.00,314.50Z" fill="#fff" stroke="#8c8c8c" stroke-width="0.9"/>
<path d="M490.16,364.45 L492.16,366.45 L490.16,368.45 L488.16,366.45Z" fill="#fff" stroke="#8c8c8c" stroke-width="0.9"/>
<path d="M515.32,368.50 L517.32,370.50 L515.32,372.50 L513.32,370.50Z" fill="#fff" stroke="#8c8c8c" stroke-width="0.9"/>
<path d="M540.48,356.35 L542.48,358.35 L540.48,360.35 L538.48,358.35Z" fill="#fff" stroke="#8c8c8c" stroke-width="0.9"/>
<path d="M565.64,316.55 L567.64,318.55 L565.64,320.55 L563.64,318.55Z" fill="#fff" stroke="#8c8c8c" stroke-width="0.9"/>
<path d="M590.80,350.28 L592.80,352.28 L590.80,354.28 L588.80,352.28Z" fill="#fff" stroke="#8c8c8c" stroke-width="0.9"/>
<path d="M615.96,371.20 L617.96,373.20 L615.96,375.20 L613.96,373.20Z" fill="#fff" stroke="#8c8c8c" stroke-width="0.9"/>
<path d="M339.20,385.16 L341.40,388.96 L337.00,388.96Z" fill="#fbd5b5" stroke="#f39446" stroke-width="0.9"/>
<path d="M364.36,400.68 L366.56,404.48 L362.16,404.48Z" fill="#fbd5b5" stroke="#f39446" stroke-width="0.9"/>
<path d="M389.52,397.31 L391.72,401.11 L387.32,401.11Z" fill="#fbd5b5" stroke="#f39446" stroke-width="0.9"/>
<path d="M414.68,390.56 L416.88,394.36 L412.48,394.36Z" fill="#fbd5b5" stroke="#f39446" stroke-width="0.9"/>
<path d="M439.84,381.79 L442.04,385.59 L437.64,385.59Z" fill="#fbd5b5" stroke="#f39446" stroke-width="0.9"/>
<path d="M465.00,390.56 L467.20,394.36 L462.80,394.36Z" fill="#fbd5b5" stroke="#f39446" stroke-width="0.9"/>
<path d="M490.16,381.79 L492.36,385.59 L487.96,385.59Z" fill="#fbd5b5" stroke="#f39446" stroke-width="0.9"/>
<path d="M515.32,376.39 L517.52,380.19 L513.12,380.19Z" fill="#fbd5b5" stroke="#f39446" stroke-width="0.9"/>
<path d="M540.48,381.79 L542.68,385.59 L538.28,385.59Z" fill="#fbd5b5" stroke="#f39446" stroke-width="0.9"/>
<path d="M565.64,387.19 L567.84,390.99 L563.44,390.99Z" fill="#fbd5b5" stroke="#f39446" stroke-width="0.9"/>
<path d="M590.80,379.77 L593.00,383.57 L588.60,383.57Z" fill="#fbd5b5" stroke="#f39446" stroke-width="0.9"/>
<path d="M615.96,374.37 L618.16,378.17 L613.76,378.17Z" fill="#fbd5b5" stroke="#f39446" stroke-width="0.9"/>
<path d="M336.90,410.03 L341.50,414.63 M341.50,410.03 L336.90,414.63" stroke="#9aae4e" stroke-width="0.9"/>
<path d="M362.06,421.50 L366.66,426.10 M366.66,421.50 L362.06,426.10" stroke="#9aae4e" stroke-width="0.9"/>
<path d="M387.22,408.68 L391.82,413.28 M391.82,408.68 L387.22,413.28" stroke="#9aae4e" stroke-width="0.9"/>
<path d="M412.38,411.38 L416.98,415.98 M416.98,411.38 L412.38,415.98" stroke="#9aae4e" stroke-width="0.9"/>
<path d="M437.54,415.43 L442.14,420.03 M442.14,415.43 L437.54,420.03" stroke="#9aae4e" stroke-width="0.9"/>
<path d="M462.70,424.87 L467.30,429.47 M467.30,424.87 L462.70,429.47" stroke="#9aae4e" stroke-width="0.9"/>
<path d="M487.86,418.13 L492.46,422.73 M492.46,418.13 L487.86,422.73" stroke="#9aae4e" stroke-width="0.9"/>
<path d="M513.02,415.43 L517.62,420.03 M517.62,415.43 L513.02,420.03" stroke="#9aae4e" stroke-width="0.9"/>
<path d="M538.18,412.73 L542.78,417.33 M542.78,412.73 L538.18,417.33" stroke="#9aae4e" stroke-width="0.9"/>
<path d="M563.34,424.20 L567.94,428.80 M567.94,424.20 L563.34,428.80" stroke="#9aae4e" stroke-width="0.9"/>
<path d="M588.50,422.85 L593.10,427.45 M593.10,422.85 L588.50,427.45" stroke="#9aae4e" stroke-width="0.9"/>
<path d="M613.66,413.40 L618.26,418.00 M618.26,413.40 L613.66,418.00" stroke="#9aae4e" stroke-width="0.9"/>
<path d="M336.70,421.10 L341.70,421.10 M339.20,418.60 L339.20,423.60" stroke="#34a4bc" stroke-width="0.9"/>
<path d="M361.86,424.47 L366.86,424.47 M364.36,421.97 L364.36,426.97" stroke="#34a4bc" stroke-width="0.9"/>
<path d="M387.02,423.12 L392.02,423.12 M389.52,420.62 L389.52,425.62" stroke="#34a4bc" stroke-width="0.9"/>
<path d="M412.18,420.43 L417.18,420.43 M414.68,417.93 L414.68,422.93" stroke="#34a4bc" stroke-width="0.9"/>
<path d="M437.34,426.50 L442.34,426.50 M439.84,424.00 L439.84,429.00" stroke="#34a4bc" stroke-width="0.9"/>
<path d="M462.50,427.85 L467.50,427.85 M465.00,425.35 L465.00,430.35" stroke="#34a4bc" stroke-width="0.9"/>
<path d="M487.66,428.52 L492.66,428.52 M490.16,426.02 L490.16,431.02" stroke="#34a4bc" stroke-width="0.9"/>
<path d="M512.82,417.05 L517.82,417.05 M515.32,414.55 L515.32,419.55" stroke="#34a4bc" stroke-width="0.9"/>
<path d="M537.98,417.73 L542.98,417.73 M540.48,415.23 L540.48,420.23" stroke="#34a4bc" stroke-width="0.9"/>
<path d="M563.14,422.45 L568.14,422.45 M565.64,419.95 L565.64,424.95" stroke="#34a4bc" stroke-width="0.9"/>
<path d="M588.30,425.15 L593.30,425.15 M590.80,422.65 L590.80,427.65" stroke="#34a4bc" stroke-width="0.9"/>
<path d="M613.46,417.05 L618.46,417.05 M615.96,414.55 L615.96,419.55" stroke="#34a4bc" stroke-width="0.9"/>
<text x="328.1" y="432.9" font-size="8.3" fill="#4a64a4" font-weight="normal" text-anchor="middle" font-family="'Liberation Sans','Noto Sans CJK KR',sans-serif">8.3</text>
<text x="364.2" y="436.2" font-size="8.3" fill="#4a64a4" font-weight="normal" text-anchor="middle" font-family="'Liberation Sans','Noto Sans CJK KR',sans-serif">7.8</text>
<text x="389.1" y="439.4" font-size="8.3" fill="#4a64a4" font-weight="normal" text-anchor="middle" font-family="'Liberation Sans','Noto Sans CJK KR',sans-serif">8.0</text>
<text x="414.0" y="433.6" font-size="8.3" fill="#4a64a4" font-weight="normal" text-anchor="middle" font-family="'Liberation Sans','Noto Sans CJK KR',sans-serif">8.4</text>
<text x="439.9" y="441.8" font-size="8.3" fill="#4a64a4" font-weight="normal" text-anchor="middle" font-family="'Liberation Sans','Noto Sans CJK KR',sans-serif">7.5</text>
<text x="465.2" y="443.4" font-size="8.3" fill="#4a64a4" font-weight="normal" text-anchor="middle" font-family="'Liberation Sans','Noto Sans CJK KR',sans-serif">7.3</text>
<text x="489.7" y="440.2" font-size="8.3" fill="#4a64a4" font-weight="normal" text-anchor="middle" font-family="'Liberation Sans','Noto Sans CJK KR',sans-serif">7.2</text>
<text x="515.3" y="425.1" font-size="8.3" fill="#4a64a4" font-weight="normal" text-anchor="middle" font-family="'Liberation Sans','Noto Sans CJK KR',sans-serif">8.9</text>
<text x="540.6" y="429.0" font-size="8.3" fill="#4a64a4" font-weight="normal" text-anchor="middle" font-family="'Liberation Sans','Noto Sans CJK KR',sans-serif">8.8</text>
<text x="560.0" y="418.9" font-size="8.3" fill="#4a64a4" font-weight="normal" text-anchor="middle" font-family="'Liberation Sans','Noto Sans CJK KR',sans-serif">8.1</text>
<text x="591.2" y="441.3" font-size="8.3" fill="#4a64a4" font-weight="normal" text-anchor="middle" font-family="'Liberation Sans','Noto Sans CJK KR',sans-serif">7.7</text>
<text x="616.2" y="433.5" font-size="8.3" fill="#4a64a4" font-weight="normal" text-anchor="middle" font-family="'Liberation Sans','Noto Sans CJK KR',sans-serif">8.9</text>
<text x="328.6" y="411.7" font-size="8.3" fill="#98a462" font-weight="normal" text-anchor="middle" font-family="'Liberation Sans','Noto Sans CJK KR',sans-serif">9.6</text>
<text x="362.1" y="421.0" font-size="8.3" fill="#98a462" font-weight="normal" text-anchor="middle" font-family="'Liberation Sans','Noto Sans CJK KR',sans-serif">7.9</text>
<text x="390.7" y="406.8" font-size="8.3" fill="#98a462" font-weight="normal" text-anchor="middle" font-family="'Liberation Sans','Noto Sans CJK KR',sans-serif">9.8</text>
<text x="414.0" y="408.8" font-size="8.3" fill="#98a462" font-weight="normal" text-anchor="middle" font-family="'Liberation Sans','Noto Sans CJK KR',sans-serif">9.4</text>
<text x="439.6" y="413.2" font-size="8.3" fill="#98a462" font-weight="normal" text-anchor="middle" font-family="'Liberation Sans','Noto Sans CJK KR',sans-serif">8.8</text>
<text x="464.4" y="422.5" font-size="8.3" fill="#98a462" font-weight="normal" text-anchor="middle" font-family="'Liberation Sans','Noto Sans CJK KR',sans-serif">7.4</text>
<text x="488.6" y="414.3" font-size="8.3" fill="#98a462" font-weight="normal" text-anchor="middle" font-family="'Liberation Sans','Noto Sans CJK KR',sans-serif">8.4</text>
<text x="514.5" y="413.7" font-size="8.3" fill="#98a462" font-weight="normal" text-anchor="middle" font-family="'Liberation Sans','Noto Sans CJK KR',sans-serif">8.8</text>
<text x="540.6" y="407.8" font-size="8.3" fill="#98a462" font-weight="normal" text-anchor="middle" font-family="'Liberation Sans','Noto Sans CJK KR',sans-serif">9.2</text>
<text x="562.3" y="436.9" font-size="8.3" fill="#98a462" font-weight="normal" text-anchor="middle" font-family="'Liberation Sans','Noto Sans CJK KR',sans-serif">7.5</text>
<text x="590.5" y="417.1" font-size="8.3" fill="#98a462" font-weight="normal" text-anchor="middle" font-family="'Liberation Sans','Noto Sans CJK KR',sans-serif">7.7</text>
<text x="615.7" y="407.3" font-size="8.3" fill="#98a462" font-weight="normal" text-anchor="middle" font-family="'Liberation Sans','Noto Sans CJK KR',sans-serif">9.1</text>
<text x="329.9" y="389.6" font-size="8.3" fill="#ea955a" font-weight="normal" text-anchor="middle" font-family="'Liberation Sans','Noto Sans CJK KR',sans-serif">13.3</text>
<text x="362.3" y="413.3" font-size="8.3" fill="#ea955a" font-weight="normal" text-anchor="middle" font-family="'Liberation Sans','Noto Sans CJK KR',sans-serif">11.0</text>
<text x="386.2" y="411.7" font-size="8.3" fill="#ea955a" font-weight="normal" text-anchor="middle" font-family="'Liberation Sans','Noto Sans CJK KR',sans-serif">11.5</text>
<text x="414.4" y="389.2" font-size="8.3" fill="#ea955a" font-weight="normal" text-anchor="middle" font-family="'Liberation Sans','Noto Sans CJK KR',sans-serif">12.5</text>
<text x="443.0" y="378.4" font-size="8.3" fill="#ea955a" font-weight="normal" text-anchor="middle" font-family="'Liberation Sans','Noto Sans CJK KR',sans-serif">13.8</text>
<text x="467.9" y="389.2" font-size="8.3" fill="#ea955a" font-weight="normal" text-anchor="middle" font-family="'Liberation Sans','Noto Sans CJK KR',sans-serif">12.5</text>
<text x="490.4" y="393.6" font-size="8.3" fill="#ea955a" font-weight="normal" text-anchor="middle" font-family="'Liberation Sans','Noto Sans CJK KR',sans-serif">13.8</text>
<text x="517.0" y="391.1" font-size="8.3" fill="#ea955a" font-weight="normal" text-anchor="middle" font-family="'Liberation Sans','Noto Sans CJK KR',sans-serif">14.6</text>
<text x="540.9" y="396.9" font-size="8.3" fill="#ea955a" font-weight="normal" text-anchor="middle" font-family="'Liberation Sans','Noto Sans CJK KR',sans-serif">13.8</text>
<text x="560.9" y="401.3" font-size="8.3" fill="#ea955a" font-weight="normal" text-anchor="middle" font-family="'Liberation Sans','Noto Sans CJK KR',sans-serif">13.0</text>
<text x="590.8" y="373.4" font-size="8.3" fill="#ea955a" font-weight="normal" text-anchor="middle" font-family="'Liberation Sans','Noto Sans CJK KR',sans-serif">14.1</text>
<text x="616.4" y="368.5" font-size="8.3" fill="#ea955a" font-weight="normal" text-anchor="middle" font-family="'Liberation Sans','Noto Sans CJK KR',sans-serif">14.9</text>
<text x="331.1" y="356.9" font-size="8.3" fill="#7a7a7a" font-weight="normal" text-anchor="middle" font-family="'Liberation Sans','Noto Sans CJK KR',sans-serif">17.2</text>
<text x="353.9" y="322.5" font-size="8.3" fill="#7a7a7a" font-weight="normal" text-anchor="middle" font-family="'Liberation Sans','Noto Sans CJK KR',sans-serif">24.5</text>
<text x="395.6" y="345.4" font-size="8.3" fill="#7a7a7a" font-weight="normal" text-anchor="middle" font-family="'Liberation Sans','Noto Sans CJK KR',sans-serif">21.3</text>
<text x="416.2" y="364.0" font-size="8.3" fill="#7a7a7a" font-weight="normal" text-anchor="middle" font-family="'Liberation Sans','Noto Sans CJK KR',sans-serif">16.3</text>
<text x="436.6" y="369.9" font-size="8.3" fill="#7a7a7a" font-weight="normal" text-anchor="middle" font-family="'Liberation Sans','Noto Sans CJK KR',sans-serif">17.8</text>
<text x="459.4" y="324.8" font-size="8.3" fill="#7a7a7a" font-weight="normal" text-anchor="middle" font-family="'Liberation Sans','Noto Sans CJK KR',sans-serif">24.1</text>
<text x="494.6" y="375.5" font-size="8.3" fill="#7a7a7a" font-weight="normal" text-anchor="middle" font-family="'Liberation Sans','Noto Sans CJK KR',sans-serif">16.4</text>
<text x="512.6" y="363.6" font-size="8.3" fill="#7a7a7a" font-weight="normal" text-anchor="middle" font-family="'Liberation Sans','Noto Sans CJK KR',sans-serif">15.8</text>
<text x="532.5" y="365.3" font-size="8.3" fill="#7a7a7a" font-weight="normal" text-anchor="middle" font-family="'Liberation Sans','Noto Sans CJK KR',sans-serif">17.6</text>
<text x="562.9" y="315.4" font-size="8.3" fill="#7a7a7a" font-weight="normal" text-anchor="middle" font-family="'Liberation Sans','Noto Sans CJK KR',sans-serif">23.5</text>
<text x="595.6" y="350.6" font-size="8.3" fill="#7a7a7a" font-weight="normal" text-anchor="middle" font-family="'Liberation Sans','Noto Sans CJK KR',sans-serif">18.5</text>
<text x="634.3" y="368.5" font-size="8.3" fill="#7a7a7a" font-weight="normal" text-anchor="middle" font-family="'Liberation Sans','Noto Sans CJK KR',sans-serif">15.4</text>
<text x="332.2" y="328.1" font-size="8.2" fill="#1f2a5c" font-weight="bold" text-anchor="middle" font-family="'Liberation Sans','Noto Sans CJK KR',sans-serif" stroke="#1f2a5c" stroke-width="0.25">21.1</text>
<text x="366.9" y="359.2" font-size="8.2" fill="#1f2a5c" font-weight="bold" text-anchor="middle" font-family="'Liberation Sans','Noto Sans CJK KR',sans-serif" stroke="#1f2a5c" stroke-width="0.25">19.3</text>
<text x="393.3" y="322.9" font-size="8.2" fill="#1f2a5c" font-weight="bold" text-anchor="middle" font-family="'Liberation Sans','Noto Sans CJK KR',sans-serif" stroke="#1f2a5c" stroke-width="0.25">22.4</text>
<text x="414.6" y="336.8" font-size="8.2" fill="#1f2a5c" font-weight="bold" text-anchor="middle" font-family="'Liberation Sans','Noto Sans CJK KR',sans-serif" stroke="#1f2a5c" stroke-width="0.25">20.1</text>
<text x="440.6" y="342.2" font-size="8.2" fill="#1f2a5c" font-weight="bold" text-anchor="middle" font-family="'Liberation Sans','Noto Sans CJK KR',sans-serif" stroke="#1f2a5c" stroke-width="0.25">19.4</text>
<text x="465.1" y="364.5" font-size="8.2" fill="#1f2a5c" font-weight="bold" text-anchor="middle" font-family="'Liberation Sans','Noto Sans CJK KR',sans-serif" stroke="#1f2a5c" stroke-width="0.25">16.1</text>
<text x="489.6" y="336.3" font-size="8.2" fill="#1f2a5c" font-weight="bold" text-anchor="middle" font-family="'Liberation Sans','Noto Sans CJK KR',sans-serif" stroke="#1f2a5c" stroke-width="0.25">20.2</text>
<text x="515.0" y="347.0" font-size="8.2" fill="#1f2a5c" font-weight="bold" text-anchor="middle" font-family="'Liberation Sans','Noto Sans CJK KR',sans-serif" stroke="#1f2a5c" stroke-width="0.25">18.5</text>
<text x="540.5" y="347.0" font-size="8.2" fill="#1f2a5c" font-weight="bold" text-anchor="middle" font-family="'Liberation Sans','Noto Sans CJK KR',sans-serif" stroke="#1f2a5c" stroke-width="0.25">18.5</text>
<text x="568.2" y="365.8" font-size="8.2" fill="#1f2a5c" font-weight="bold" text-anchor="middle" font-family="'Liberation Sans','Noto Sans CJK KR',sans-serif" stroke="#1f2a5c" stroke-width="0.25">15.8</text>
<text x="591.0" y="331.3" font-size="8.2" fill="#1f2a5c" font-weight="bold" text-anchor="middle" font-family="'Liberation Sans','Noto Sans CJK KR',sans-serif" stroke="#1f2a5c" stroke-width="0.25">20.4</text>
<text x="616.1" y="346.9" font-size="8.2" fill="#1f2a5c" font-weight="bold" text-anchor="middle" font-family="'Liberation Sans','Noto Sans CJK KR',sans-serif" stroke="#1f2a5c" stroke-width="0.25">18.0</text>
<text x="339.2" y="456.9" font-size="8.5" fill="#404040" font-weight="bold" text-anchor="middle" font-family="'Liberation Sans','Noto Sans CJK KR',sans-serif">3Q</text>
<text x="364.4" y="456.9" font-size="8.5" fill="#404040" font-weight="bold" text-anchor="middle" font-family="'Liberation Sans','Noto Sans CJK KR',sans-serif">4Q</text>
<text x="389.5" y="456.9" font-size="8.5" fill="#404040" font-weight="bold" text-anchor="middle" font-family="'Liberation Sans','Noto Sans CJK KR',sans-serif">'23.1Q</text>
<text x="414.7" y="456.9" font-size="8.5" fill="#404040" font-weight="bold" text-anchor="middle" font-family="'Liberation Sans','Noto Sans CJK KR',sans-serif">2Q</text>
<text x="439.8" y="456.9" font-size="8.5" fill="#404040" font-weight="bold" text-anchor="middle" font-family="'Liberation Sans','Noto Sans CJK KR',sans-serif">3Q</text>
<text x="465.0" y="456.9" font-size="8.5" fill="#404040" font-weight="bold" text-anchor="middle" font-family="'Liberation Sans','Noto Sans CJK KR',sans-serif">4Q</text>
<text x="490.2" y="456.9" font-size="8.5" fill="#404040" font-weight="bold" text-anchor="middle" font-family="'Liberation Sans','Noto Sans CJK KR',sans-serif">'24.1Q</text>
<text x="515.3" y="456.9" font-size="8.5" fill="#404040" font-weight="bold" text-anchor="middle" font-family="'Liberation Sans','Noto Sans CJK KR',sans-serif">2Q</text>
<text x="540.5" y="456.9" font-size="8.5" fill="#404040" font-weight="bold" text-anchor="middle" font-family="'Liberation Sans','Noto Sans CJK KR',sans-serif">3Q</text>
<text x="565.6" y="456.9" font-size="8.5" fill="#404040" font-weight="bold" text-anchor="middle" font-family="'Liberation Sans','Noto Sans CJK KR',sans-serif">4Q</text>
<text x="590.8" y="456.9" font-size="8.5" fill="#404040" font-weight="bold" text-anchor="middle" font-family="'Liberation Sans','Noto Sans CJK KR',sans-serif">'25.1Q</text>
<text x="616.0" y="456.9" font-size="8.5" fill="#404040" font-weight="bold" text-anchor="middle" font-family="'Liberation Sans','Noto Sans CJK KR',sans-serif">2Q</text>
<text x="622.7" y="451.8" font-size="6" fill="#404040" font-weight="bold" text-anchor="middle" font-family="'Liberation Sans','Noto Sans CJK KR',sans-serif">F</text>
<ellipse cx="0" cy="0" rx="17.3" ry="5.7" fill="#1a2fa5" transform="translate(625.1,317.2) rotate(-10)"/>
<text x="625.0" y="319.9" font-size="6.6" fill="#ffffff" font-weight="bold" text-anchor="middle" font-family="'Liberation Sans','Noto Sans CJK KR',sans-serif" textLength="25.0" lengthAdjust="spacingAndGlyphs">SAMSUNG</text>
<g transform="translate(627.6,332.4)" fill="#000"><path d="M6.5,4.0 C6.4,2.2 8.0,0.5 10.2,0.1 C10.5,2.2 8.8,3.8 6.5,4.0 Z"/><path d="M7.0,5.0 C5.8,4.2 4.0,4.0 2.8,4.5 C0.8,5.4 0.0,7.4 0.0,9.3 C0.0,12.2 1.6,15.0 3.2,15.9 C4.3,16.5 5.2,16.0 6.6,15.8 C8.0,16.0 8.9,16.5 10.0,15.9 C11.4,15.0 12.6,13.0 13.3,11.6 C11.9,10.9 11.2,9.8 11.3,8.4 C11.4,7.2 12.0,6.4 12.8,5.9 C11.8,4.5 10.2,4.0 8.9,4.4 C8.2,4.6 7.6,4.9 7.0,5.0 Z"/></g>
<rect x="621.20" y="375.80" width="9.70" height="6.90" fill="#e8701e"/>
<text x="626.0" y="381.6" font-size="7" fill="#ffffff" font-weight="bold" text-anchor="middle" font-family="'Liberation Sans','Noto Sans CJK KR',sans-serif" textLength="7.4" lengthAdjust="spacingAndGlyphs">mi</text>
<text x="633.2" y="382.2" font-size="6.5" fill="#8c8c8c" font-weight="normal" text-anchor="start" font-family="'Noto Sans CJK SC',sans-serif" textLength="11.6" lengthAdjust="spacingAndGlyphs">小米</text>
<text x="628.8" y="394.7" font-size="7" fill="#2a8565" font-weight="normal" text-anchor="middle" font-family="'DejaVu Sans',sans-serif" textLength="21.9" lengthAdjust="spacingAndGlyphs">oppo</text>
<text x="629.4" y="423.2" font-size="10.5" fill="#1a6fc0" font-weight="bold" text-anchor="middle" font-family="'Liberation Sans','Noto Sans CJK KR',sans-serif" textLength="15.0" lengthAdjust="spacingAndGlyphs">vivo</text>
</svg>
</body></html>
